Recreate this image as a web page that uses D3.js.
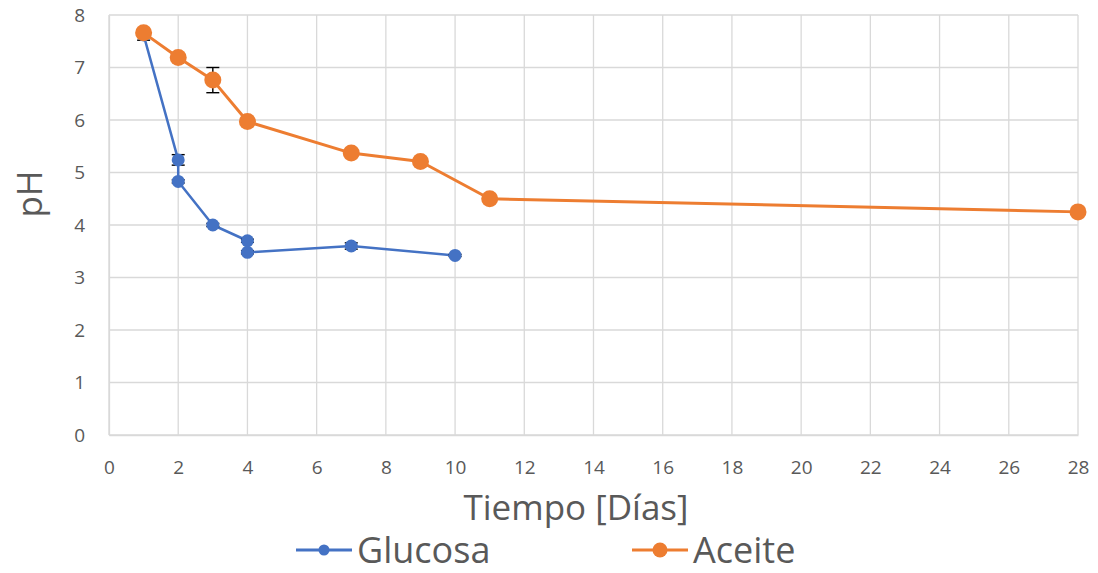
<!DOCTYPE html>
<html>
<head>
<meta charset="utf-8">
<script src="https://cdn.jsdelivr.net/npm/d3@7"></script>
<style>
  html, body { margin: 0; padding: 0; background: #fff; }
  svg { display: block; font-family: "Open Sans", "DejaVu Sans", sans-serif; }
</style>
</head>
<body>
<svg id="chart" width="1098" height="573"></svg>
<script>
// pH over time for the two carbon sources
const glucosaDias = [1, 2, 2, 3, 4, 4, 7, 10];
const glucosaPH   = [7.62, 5.24, 4.83, 4.00, 3.70, 3.48, 3.60, 3.42];
const glucosaErr  = [0.10, 0.10, 0.03, 0.03, 0.03, 0.03, 0.06, 0.02];

const aceiteDias = [1, 2, 3, 4, 7, 9, 11, 28];
const aceitePH   = [7.66, 7.19, 6.76, 5.97, 5.37, 5.21, 4.50, 4.25];
const aceiteErr  = [0.03, 0.03, 0.24, 0.03, 0.03, 0.03, 0.03, 0.03];

const xTicks = [0, 2, 4, 6, 8, 10, 12, 14, 16, 18, 20, 22, 24, 26, 28];
const yTicks = [0, 1, 2, 3, 4, 5, 6, 7, 8];

const seriesNames = ["Glucosa", "Aceite"];
const seriesColors = ["#4472C4", "#ED7D31"];

const series = [
  { name: seriesNames[0], color: seriesColors[0], r: 6.5, w: 2.5,
    pts: glucosaDias.map((d, i) => ({ x: d, y: glucosaPH[i], e: glucosaErr[i] })) },
  { name: seriesNames[1], color: seriesColors[1], r: 8.5, w: 3,
    pts: aceiteDias.map((d, i) => ({ x: d, y: aceitePH[i], e: aceiteErr[i] })) }
];

const svg = d3.select("#chart");
const plotL = 109, plotR = 1078, plotT = 15, plotB = 435;

const x = d3.scaleLinear().domain([0, 28]).range([plotL, plotR]);
const y = d3.scaleLinear().domain([0, 8]).range([plotB, plotT]);

const textColor = "#595959";
const gridColor = "#D9D9D9";

// grid
const grid = svg.append("g");
grid.selectAll("line.h").data(yTicks).join("line").attr("class", "h")
  .attr("x1", plotL).attr("x2", plotR)
  .attr("y1", d => y(d)).attr("y2", d => y(d))
  .attr("stroke", gridColor).attr("stroke-width", 1.3);
grid.selectAll("line.v").data(xTicks).join("line").attr("class", "v")
  .attr("y1", plotT).attr("y2", plotB)
  .attr("x1", d => x(d)).attr("x2", d => x(d))
  .attr("stroke", gridColor).attr("stroke-width", 1.3);

// axes
const xAxis = svg.append("g").attr("transform", `translate(0,${plotB})`)
  .call(d3.axisBottom(x).tickValues(xTicks).tickSize(0).tickPadding(26));
xAxis.select(".domain").attr("stroke", gridColor).attr("stroke-width", 1.3);
xAxis.selectAll("text").attr("fill", textColor).style("font-size", "19px")
  .style("font-family", "'Open Sans', sans-serif");

const yAxis = svg.append("g").attr("transform", `translate(${plotL},0)`)
  .call(d3.axisLeft(y).tickValues(yTicks).tickSize(0).tickPadding(24));
yAxis.select(".domain").attr("stroke", gridColor).attr("stroke-width", 1.3);
yAxis.selectAll("text").attr("fill", textColor).style("font-size", "19px")
  .style("font-family", "'Open Sans', sans-serif");

// axis titles
svg.append("text")
  .attr("x", 576).attr("y", 520)
  .attr("text-anchor", "middle").attr("fill", textColor)
  .style("font-size", "35px").text("Tiempo [Días]");
svg.append("text")
  .attr("transform", `translate(42,194) rotate(-90)`)
  .attr("text-anchor", "middle").attr("fill", textColor)
  .style("font-size", "35px").text("pH");

// series lines, error bars, markers
const line = d3.line().x(d => x(d.x)).y(d => y(d.y));
series.forEach(s => {
  const g = svg.append("g");
  g.append("path").datum(s.pts).attr("d", line)
    .attr("fill", "none").attr("stroke", s.color)
    .attr("stroke-width", s.w).attr("stroke-linejoin", "round");
  const eb = g.selectAll("g.err").data(s.pts).join("g").attr("class", "err")
    .attr("stroke", "#000").attr("stroke-width", 1.4);
  eb.append("line").attr("x1", d => x(d.x)).attr("x2", d => x(d.x))
    .attr("y1", d => y(d.y + d.e)).attr("y2", d => y(d.y - d.e));
  eb.append("line").attr("x1", d => x(d.x) - 6.5).attr("x2", d => x(d.x) + 6.5)
    .attr("y1", d => y(d.y + d.e)).attr("y2", d => y(d.y + d.e));
  eb.append("line").attr("x1", d => x(d.x) - 6.5).attr("x2", d => x(d.x) + 6.5)
    .attr("y1", d => y(d.y - d.e)).attr("y2", d => y(d.y - d.e));
  g.selectAll("circle").data(s.pts).join("circle")
    .attr("cx", d => x(d.x)).attr("cy", d => y(d.y)).attr("r", s.r)
    .attr("fill", s.color);
});

// legend
const legendY = 550;
const legendItems = [
  { name: seriesNames[0], color: seriesColors[0], x0: 296, r: 5.5 },
  { name: seriesNames[1], color: seriesColors[1], x0: 632, r: 7.5 }
];
legendItems.forEach(it => {
  svg.append("line").attr("x1", it.x0).attr("x2", it.x0 + 56)
    .attr("y1", legendY).attr("y2", legendY)
    .attr("stroke", it.color).attr("stroke-width", 3);
  svg.append("circle").attr("cx", it.x0 + 28).attr("cy", legendY).attr("r", it.r)
    .attr("fill", it.color);
  svg.append("text").attr("x", it.x0 + 61).attr("y", legendY + 13)
    .attr("fill", textColor).style("font-size", "36px").text(it.name);
});
</script>
</body>
</html>
